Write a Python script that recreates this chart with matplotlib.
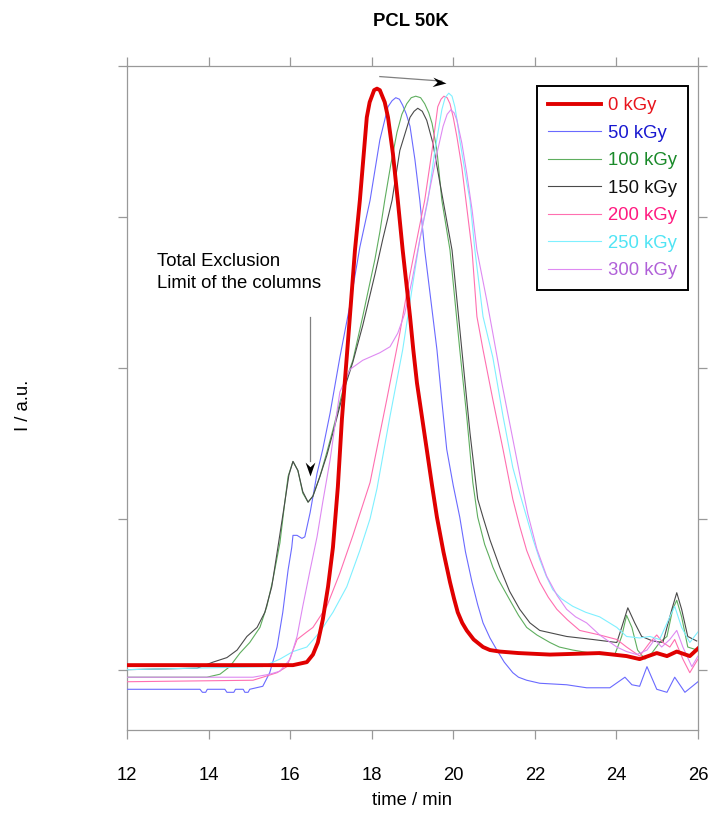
import matplotlib
matplotlib.use("Agg")
import matplotlib.pyplot as plt
from matplotlib.path import Path
from matplotlib.transforms import Affine2D

plt.rcParams['font.family'] = ['Liberation Sans', 'DejaVu Sans']

# chromatograms: retention time (min) / signal (a.u.)
t_0kGy = [12.00, 15.01, 16.07, 16.41, 16.56, 16.68, 16.80, 16.93, 17.05, 17.17,
          17.27, 17.44, 17.59, 17.71, 17.88, 17.95, 18.06, 18.13, 18.20, 18.32,
          18.40, 18.52, 18.64, 18.76, 18.94, 19.02, 19.11, 19.23, 19.35, 19.48,
          19.60, 19.76, 19.92, 20.02, 20.11, 20.22, 20.33, 20.50, 20.73, 20.90,
          21.14, 21.60, 22.37, 23.59, 24.25, 24.57, 24.99, 25.24, 25.48, 25.80,
          26.00]
i_0kGy = [0.03, 0.03, 0.03, 0.05, 0.10, 0.18, 0.33, 0.55, 0.81, 1.21,
          1.66, 2.25, 2.78, 3.11, 3.66, 3.76, 3.84, 3.85, 3.84, 3.76,
          3.66, 3.42, 3.11, 2.78, 2.34, 2.12, 1.90, 1.68, 1.46, 1.22,
          1.01, 0.78, 0.58, 0.47, 0.38, 0.31, 0.26, 0.20, 0.15, 0.13,
          0.12, 0.11, 0.10, 0.11, 0.09, 0.07, 0.11, 0.09, 0.12, 0.09,
          0.14]

t_50kGy = [12.00, 13.79, 13.85, 13.93, 13.97, 14.40, 14.45, 14.62, 14.66, 14.85,
           14.89, 14.97, 15.01, 15.33, 15.50, 15.68, 15.82, 15.95, 16.04, 16.07,
           16.17, 16.29, 16.36, 16.49, 16.66, 16.80, 16.98, 17.22, 17.47, 17.71,
           17.96, 18.20, 18.40, 18.50, 18.59, 18.68, 18.76, 18.85, 18.94, 19.06,
           19.18, 19.30, 19.45, 19.60, 19.72, 19.84, 20.00, 20.16, 20.30, 20.46,
           20.60, 20.73, 20.90, 21.07, 21.25, 21.46, 21.60, 21.80, 22.12, 22.78,
           23.27, 23.84, 24.21, 24.38, 24.57, 24.75, 24.99, 25.24, 25.43, 25.68,
           26.00]
i_50kGy = [-0.13, -0.13, -0.15, -0.15, -0.13, -0.13, -0.15, -0.15, -0.13, -0.13,
           -0.15, -0.15, -0.13, -0.11, -0.02, 0.15, 0.38, 0.66, 0.81, 0.89,
           0.89, 0.87, 0.88, 1.04, 1.30, 1.46, 1.70, 2.07, 2.42, 2.80,
           3.11, 3.51, 3.73, 3.77, 3.79, 3.78, 3.74, 3.68, 3.60, 3.38,
           3.11, 2.78, 2.45, 2.12, 1.78, 1.46, 1.22, 1.01, 0.78, 0.58,
           0.43, 0.31, 0.21, 0.13, 0.05, -0.02, -0.05, -0.07, -0.09, -0.10,
           -0.12, -0.12, -0.05, -0.10, -0.11, 0.02, -0.13, -0.15, -0.05, -0.15,
           -0.08]

t_100kGy = [12.00, 13.96, 14.28, 14.52, 14.77, 15.01, 15.26, 15.43, 15.58, 15.75,
            15.87, 15.95, 16.07, 16.19, 16.31, 16.44, 16.56, 16.73, 16.90, 17.05,
            17.34, 17.54, 17.78, 18.08, 18.20, 18.32, 18.47, 18.62, 18.74, 18.86,
            18.97, 19.08, 19.20, 19.30, 19.40, 19.48, 19.60, 19.72, 19.92, 20.16,
            20.33, 20.48, 20.60, 20.77, 20.88, 20.97, 21.10, 21.39, 21.60, 21.80,
            22.05, 22.37, 22.60, 22.93, 23.59, 23.96, 24.13, 24.25, 24.38, 24.52,
            24.70, 24.87, 25.06, 25.24, 25.38, 25.48, 25.60, 25.75, 25.98]
i_100kGy = [-0.05, -0.05, -0.03, 0.02, 0.11, 0.18, 0.28, 0.42, 0.60, 0.84,
            1.11, 1.28, 1.38, 1.32, 1.17, 1.11, 1.15, 1.28, 1.44, 1.59,
            1.90, 2.05, 2.34, 2.72, 2.90, 3.11, 3.35, 3.56, 3.68, 3.75,
            3.79, 3.80, 3.79, 3.75, 3.69, 3.62, 3.44, 3.11, 2.78, 2.12,
            1.68, 1.24, 1.01, 0.83, 0.75, 0.68, 0.60, 0.46, 0.36, 0.28,
            0.23, 0.18, 0.15, 0.13, 0.10, 0.10, 0.22, 0.36, 0.28, 0.13,
            0.07, 0.11, 0.18, 0.22, 0.40, 0.46, 0.35, 0.15, 0.13]

t_150kGy = [12.00, 13.72, 14.11, 14.45, 14.70, 14.94, 15.19, 15.38, 15.55, 15.70,
            15.87, 15.97, 16.07, 16.19, 16.31, 16.44, 16.56, 16.73, 16.90, 17.05,
            17.34, 17.54, 17.78, 18.08, 18.27, 18.50, 18.69, 18.94, 19.04, 19.13,
            19.24, 19.35, 19.50, 19.67, 19.75, 19.97, 20.21, 20.41, 20.60, 20.73,
            20.90, 21.14, 21.38, 21.63, 21.88, 22.12, 22.45, 22.78, 23.42, 24.01,
            24.13, 24.28, 24.45, 24.62, 24.89, 25.14, 25.36, 25.48, 25.60, 25.75,
            25.97]
i_150kGy = [0.00, 0.01, 0.05, 0.08, 0.13, 0.22, 0.28, 0.38, 0.55, 0.81,
            1.11, 1.29, 1.38, 1.32, 1.18, 1.11, 1.15, 1.28, 1.42, 1.57,
            1.87, 2.04, 2.28, 2.62, 2.85, 3.11, 3.44, 3.66, 3.70, 3.72,
            3.70, 3.64, 3.49, 3.23, 3.11, 2.78, 2.12, 1.57, 1.13, 1.01,
            0.86, 0.68, 0.52, 0.40, 0.31, 0.26, 0.24, 0.22, 0.20, 0.18,
            0.28, 0.41, 0.31, 0.22, 0.19, 0.18, 0.40, 0.51, 0.40, 0.22,
            0.19]

t_200kGy = [12.00, 15.09, 15.33, 15.68, 15.92, 16.17, 16.41, 16.56, 16.90, 17.22,
            17.54, 17.96, 18.37, 18.69, 18.94, 19.13, 19.30, 19.48, 19.62, 19.70,
            19.77, 19.85, 19.92, 20.00, 20.09, 20.21, 20.31, 20.46, 20.58, 20.73,
            20.97, 21.22, 21.46, 21.63, 21.80, 21.96, 22.12, 22.33, 22.54, 22.80,
            23.10, 23.59, 24.01, 24.25, 24.57, 24.82, 24.99, 25.14, 25.31, 25.43,
            25.63, 25.80, 26.00]
i_200kGy = [-0.08, -0.07, -0.05, -0.02, 0.02, 0.20, 0.25, 0.28, 0.42, 0.64,
            0.89, 1.24, 1.79, 2.23, 2.62, 2.88, 3.11, 3.44, 3.73, 3.78,
            3.80, 3.79, 3.75, 3.66, 3.53, 3.33, 3.11, 2.78, 2.34, 2.12,
            1.79, 1.46, 1.13, 0.95, 0.79, 0.68, 0.58, 0.48, 0.40, 0.33,
            0.26, 0.23, 0.20, 0.15, 0.09, 0.18, 0.23, 0.18, 0.15, 0.20,
            0.07, -0.02, 0.07]

t_250kGy = [12.00, 15.33, 15.75, 16.07, 16.41, 16.73, 17.05, 17.39, 17.71, 17.96,
            18.13, 18.45, 18.76, 19.01, 19.18, 19.38, 19.55, 19.72, 19.80, 19.89,
            19.97, 20.04, 20.10, 20.16, 20.33, 20.41, 20.53, 20.73, 20.97, 21.22,
            21.46, 21.63, 21.80, 21.96, 22.12, 22.28, 22.44, 22.65, 22.93, 23.25,
            23.59, 24.01, 24.25, 24.57, 24.82, 25.06, 25.31, 25.43, 25.60, 25.80,
            26.00]
i_250kGy = [0.00, 0.02, 0.07, 0.12, 0.15, 0.25, 0.38, 0.55, 0.79, 1.00,
            1.20, 1.68, 2.12, 2.56, 2.85, 3.11, 3.44, 3.71, 3.79, 3.82,
            3.80, 3.73, 3.63, 3.51, 3.23, 3.11, 2.78, 2.34, 2.07, 1.68,
            1.34, 1.17, 1.01, 0.86, 0.73, 0.62, 0.53, 0.47, 0.42, 0.38,
            0.35, 0.28, 0.22, 0.21, 0.22, 0.20, 0.35, 0.42, 0.28, 0.18,
            0.25]

t_300kGy = [12.00, 15.09, 15.50, 15.75, 16.00, 16.17, 16.31, 16.49, 16.66, 16.80,
            16.98, 17.10, 17.22, 17.47, 17.78, 18.20, 18.45, 18.64, 18.81, 18.99,
            19.18, 19.40, 19.60, 19.75, 19.85, 19.94, 20.02, 20.09, 20.21, 20.33,
            20.46, 20.58, 20.82, 20.97, 21.19, 21.51, 21.67, 21.83, 22.05, 22.29,
            22.55, 22.78, 23.00, 23.27, 23.59, 24.01, 24.25, 24.50, 24.75, 24.94,
            25.11, 25.31, 25.48, 25.63, 25.85, 26.00]
i_300kGy = [-0.05, -0.05, -0.03, -0.01, 0.07, 0.22, 0.42, 0.66, 0.88, 1.11,
            1.39, 1.62, 1.84, 1.99, 2.05, 2.10, 2.14, 2.23, 2.36, 2.58,
            2.85, 3.15, 3.42, 3.60, 3.68, 3.71, 3.69, 3.64, 3.49, 3.29,
            3.05, 2.78, 2.45, 2.23, 1.90, 1.46, 1.24, 1.03, 0.80, 0.62,
            0.49, 0.40, 0.35, 0.31, 0.23, 0.15, 0.12, 0.10, 0.13, 0.20,
            0.15, 0.20, 0.26, 0.15, 0.02, 0.09]

labels = ['0 kGy', '50 kGy', '100 kGy', '150 kGy', '200 kGy', '250 kGy', '300 kGy']
times = [t_0kGy, t_50kGy, t_100kGy, t_150kGy, t_200kGy, t_250kGy, t_300kGy]
signals = [i_0kGy, i_50kGy, i_100kGy, i_150kGy, i_200kGy, i_250kGy, i_300kGy]

x_ticks = [12, 14, 16, 18, 20, 22, 24, 26]
y_ticks = [0, 1, 2, 3, 4]

# styles
line_colours = ['#e00000', '#6a6aff', '#5fae5f', '#4a4a4a', '#ff6fb0', '#7ff0ff', '#de8af2']
text_colours = ['#e8141c', '#1818d0', '#1a8a2a', '#111111', '#ff1a80', '#50e4f4', '#b060d8']
line_widths = [2.8, 0.8, 0.8, 0.8, 0.8, 0.8, 0.8]
axis_grey = '#999999'
font_size = 13.3


def arrow_head(angle):
    # notched (stealth) head, tip at the origin, pointing down before rotation
    verts = [(0, 0), (-0.42, 1.2), (0, 0.8), (0.42, 1.2), (0, 0)]
    codes = [Path.MOVETO, Path.LINETO, Path.LINETO, Path.LINETO, Path.CLOSEPOLY]
    return Path(verts, codes).transformed(Affine2D().rotate_deg(angle))


fig = plt.figure(figsize=(7.13, 8.21), dpi=100)
ax = fig.add_axes([0.1781, 0.1108, 0.8008, 0.8088])

for k in range(len(labels)):
    ax.plot(times[k], signals[k], color=line_colours[k], lw=line_widths[k],
            label=labels[k], zorder=10 if k == 0 else 3 + k * 0.1)

ax.set_xlim(12, 26)
ax.set_ylim(-0.4, 4.0)
ax.set_xticks(x_ticks)
ax.set_yticks(y_ticks)
ax.tick_params(axis='both', which='both', direction='out', length=6.5, width=0.9,
               color=axis_grey, top=True, right=True, labelsize=font_size, pad=20)
ax.tick_params(axis='y', labelleft=False)
for side in ax.spines:
    ax.spines[side].set_color(axis_grey)
    ax.spines[side].set_linewidth(0.9)

leg = ax.legend(loc='upper right', bbox_to_anchor=(0.9825, 0.970), borderaxespad=0,
                fontsize=font_size, labelcolor=text_colours, fancybox=False,
                edgecolor='black', framealpha=1, handlelength=2.9, handletextpad=0.35,
                labelspacing=0.57, borderpad=0.6)
leg.get_frame().set_linewidth(1.4)
leg.set_zorder(20)

# exclusion limit annotation
ax.text(12.74, 2.76, 'Total Exclusion\nLimit of the columns', fontsize=font_size,
        ha='left', va='top', linespacing=1.35)
ax.plot([16.49, 16.49], [2.34, 1.38], color='#808080', lw=0.9)
ax.plot([16.49], [1.28], marker=arrow_head(0), ms=20, color='black', mew=0, zorder=12)

# shift of the peak with dose
ax.plot([18.20, 19.72], [3.93, 3.90], color='#808080', lw=0.9)
ax.plot([19.82], [3.89], marker=arrow_head(85), ms=20, color='black', mew=0, zorder=12)

fig.text(0.5764, 1 - 22 / 821, 'PCL 50K', fontsize=font_size, fontweight='bold',
         ha='center', va='center')
fig.text(0.578, 1 - 800 / 821, 'time / min', fontsize=font_size, ha='center', va='center')
fig.text(24 / 713, 1 - 405 / 821, 'I / a.u.', fontsize=font_size, rotation=90,
         ha='center', va='center')

fig.savefig('out.png', dpi=100)
